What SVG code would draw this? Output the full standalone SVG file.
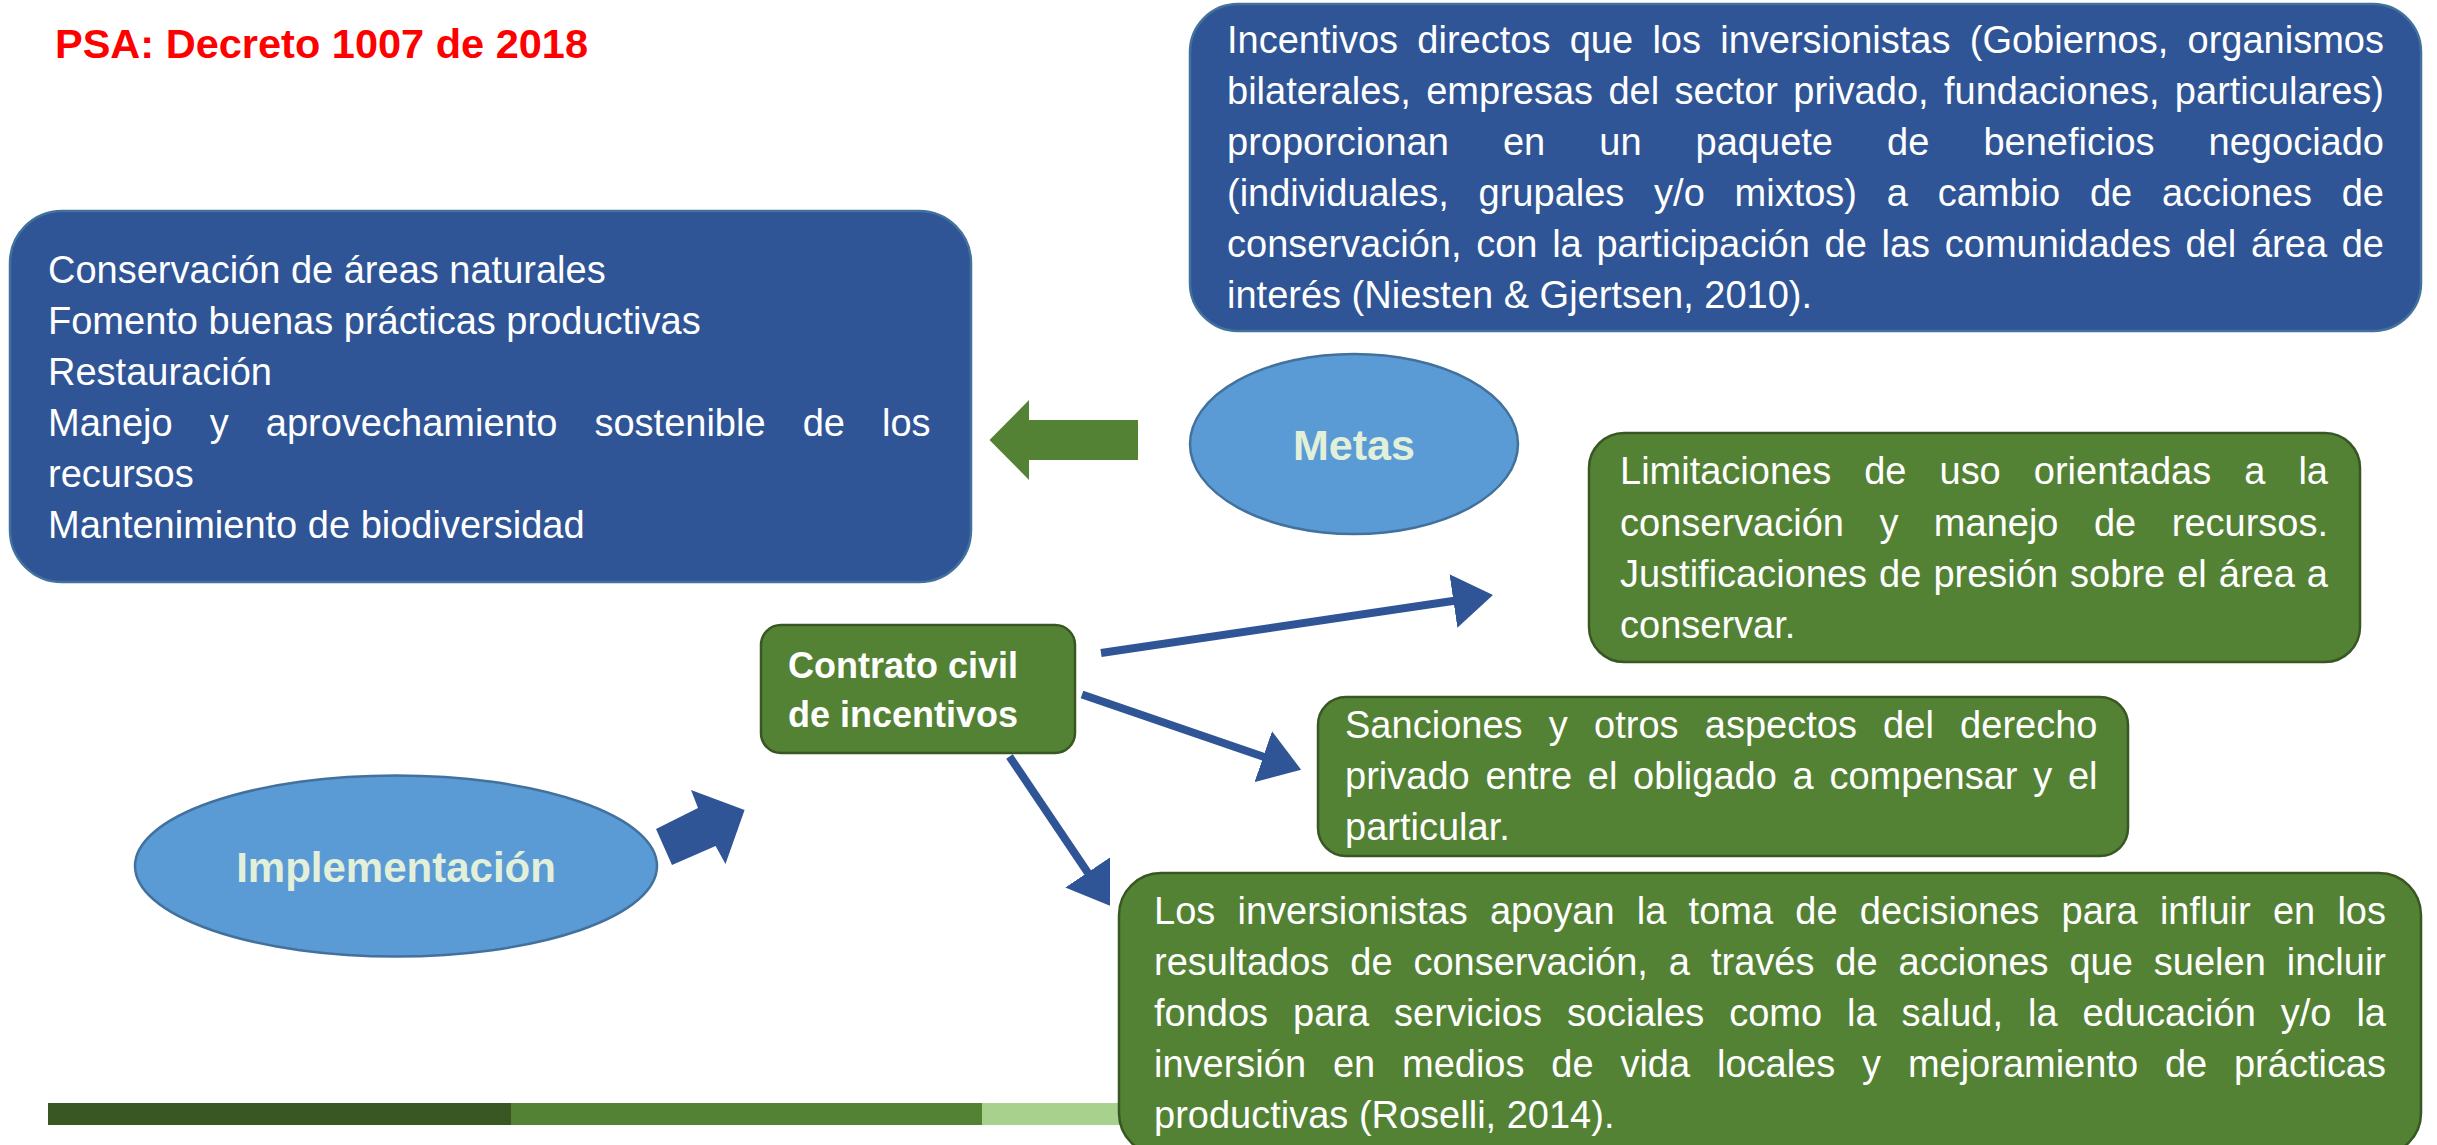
<svg xmlns="http://www.w3.org/2000/svg" width="2437" height="1145" viewBox="0 0 2437 1145">
<style>
.txt{font-family:"Liberation Sans",Arial,sans-serif;font-size:38px;fill:#FFFFFF}
.bold{font-weight:bold}
.title{font-family:"Liberation Sans",Arial,sans-serif;font-size:41px;font-weight:bold;fill:#FF0000}
.oval{font-family:"Liberation Sans",Arial,sans-serif;font-weight:bold;fill:#E2F0D9}
.bluebox{fill:#2F5597;stroke:#41719C;stroke-width:2.5}
.greenbox{fill:#548235;stroke:#385723;stroke-width:2.5}
.ell{fill:#5B9BD5;stroke:#41719C;stroke-width:2.5}
.conn{stroke:#2F5597;stroke-width:8;fill:none;marker-end:url(#head)}
</style>
<defs>
<marker id="head" markerUnits="userSpaceOnUse" markerWidth="40" markerHeight="54" viewBox="0 0 40 54" refX="1" refY="27" orient="auto">
<path d="M0,0 L40,27 L0,54 Z" fill="#2F5597"/>
</marker>
</defs>
<rect x="0" y="0" width="2437" height="1145" fill="#FFFFFF"/>

<text class="title" x="55" y="58" textLength="533" lengthAdjust="spacingAndGlyphs">PSA: Decreto 1007 de 2018</text>

<g id="footer-bars">
<rect x="48" y="1103" width="463" height="22" fill="#385723"/>
<rect x="511" y="1103" width="471" height="22" fill="#548235"/>
<rect x="982" y="1103" width="471" height="22" fill="#A9D18E"/>
</g>

<g id="node-incentivos">
<rect class="bluebox" x="1190" y="4" width="1231" height="327" rx="48" ry="48"/>
<text class="txt" x="1227" y="52.5" textLength="1157" lengthAdjust="spacing" style="word-spacing:8.7px">Incentivos directos que los inversionistas (Gobiernos, organismos</text>
<text class="txt" x="1227" y="103.5" textLength="1157" lengthAdjust="spacing" style="word-spacing:4.8px">bilaterales, empresas del sector privado, fundaciones, particulares)</text>
<text class="txt" x="1227" y="154.5" textLength="1157" lengthAdjust="spacing" style="word-spacing:43.5px">proporcionan en un paquete de beneficios negociado</text>
<text class="txt" x="1227" y="205.5" textLength="1157" lengthAdjust="spacing" style="word-spacing:19.2px">(individuales, grupales y/o mixtos) a cambio de acciones de</text>
<text class="txt" x="1227" y="256.5" textLength="1157" lengthAdjust="spacing" style="word-spacing:4.1px">conservación, con la participación de las comunidades del área de</text>
<text class="txt" x="1227" y="307.5">interés (Niesten &amp; Gjertsen, 2010).</text>
</g>

<g id="node-metas-lista">
<rect class="bluebox" x="10" y="211" width="961" height="371" rx="52" ry="52"/>
<text class="txt" x="48" y="282.5">Conservación de áreas naturales</text>
<text class="txt" x="48" y="333.5">Fomento buenas prácticas productivas</text>
<text class="txt" x="48" y="384.5">Restauración</text>
<text class="txt" x="48" y="435.5" textLength="882.6" lengthAdjust="spacing" style="word-spacing:26.5px">Manejo y aprovechamiento sostenible de los</text>
<text class="txt" x="48" y="486.5">recursos</text>
<text class="txt" x="48" y="537.5">Mantenimiento de biodiversidad</text>
</g>

<g id="node-metas">
<ellipse class="ell" cx="1354" cy="444" rx="164" ry="90"/>
<text class="oval" x="1354" y="460" font-size="43" text-anchor="middle">Metas</text>
</g>

<g id="node-limitaciones">
<rect class="greenbox" x="1589" y="433" width="771" height="229" rx="35" ry="35"/>
<text class="txt" x="1620" y="484" textLength="708" lengthAdjust="spacing" style="word-spacing:22.5px">Limitaciones de uso orientadas a la</text>
<text class="txt" x="1620" y="535.5" textLength="708" lengthAdjust="spacing" style="word-spacing:24.9px">conservación y manejo de recursos.</text>
<text class="txt" x="1620" y="587" textLength="708" lengthAdjust="spacing" style="word-spacing:1.5px">Justificaciones de presión sobre el área a</text>
<text class="txt" x="1620" y="638">conservar.</text>
</g>

<g id="node-contrato">
<rect class="greenbox" x="761" y="625" width="314" height="128" rx="20" ry="20"/>
<text class="txt bold" x="788" y="678" font-size="36" style="font-size:36px">Contrato civil</text>
<text class="txt bold" x="788" y="727" style="font-size:36px">de incentivos</text>
</g>

<g id="node-sanciones">
<rect class="greenbox" x="1318" y="697" width="810" height="159" rx="28" ry="28"/>
<text class="txt" x="1345" y="738" textLength="752.5" lengthAdjust="spacing" style="word-spacing:15.6px">Sanciones y otros aspectos del derecho</text>
<text class="txt" x="1345" y="789" textLength="752.5" lengthAdjust="spacing" style="word-spacing:5.1px">privado entre el obligado a compensar y el</text>
<text class="txt" x="1345" y="840">particular.</text>
</g>

<g id="node-implementacion">
<ellipse class="ell" cx="396" cy="866" rx="261" ry="90.5"/>
<text class="oval" x="396" y="882" font-size="42" text-anchor="middle">Implementación</text>
</g>

<g id="node-inversionistas">
<rect class="greenbox" x="1119" y="873" width="1302" height="282" rx="42" ry="42"/>
<text class="txt" x="1154" y="924" textLength="1232" lengthAdjust="spacing" style="word-spacing:11.7px">Los inversionistas apoyan la toma de decisiones para influir en los</text>
<text class="txt" x="1154" y="975" textLength="1232" lengthAdjust="spacing" style="word-spacing:10.4px">resultados de conservación, a través de acciones que suelen incluir</text>
<text class="txt" x="1154" y="1026" textLength="1232" lengthAdjust="spacing" style="word-spacing:14.4px">fondos para servicios sociales como la salud, la educación y/o la</text>
<text class="txt" x="1154" y="1077" textLength="1232" lengthAdjust="spacing" style="word-spacing:16.3px">inversión en medios de vida locales y mejoramiento de prácticas</text>
<text class="txt" x="1154" y="1128">productivas (Roselli, 2014).</text>
</g>

<g id="connectors">
<polygon points="989.5,440 1029,400 1029,420 1138,420 1138,460 1029,460 1029,480" fill="#548235"/>
<polygon points="656,829 698,808 691,790 744.6,810 725.5,864 715.6,846 672,865" fill="#2F5597"/>
<line class="conn" x1="1101" y1="653" x2="1454.4" y2="600.8"/>
<line class="conn" x1="1082" y1="694.5" x2="1264.2" y2="757"/>
<line class="conn" x1="1009.5" y1="756.5" x2="1088.2" y2="873.3"/>
</g>
</svg>
